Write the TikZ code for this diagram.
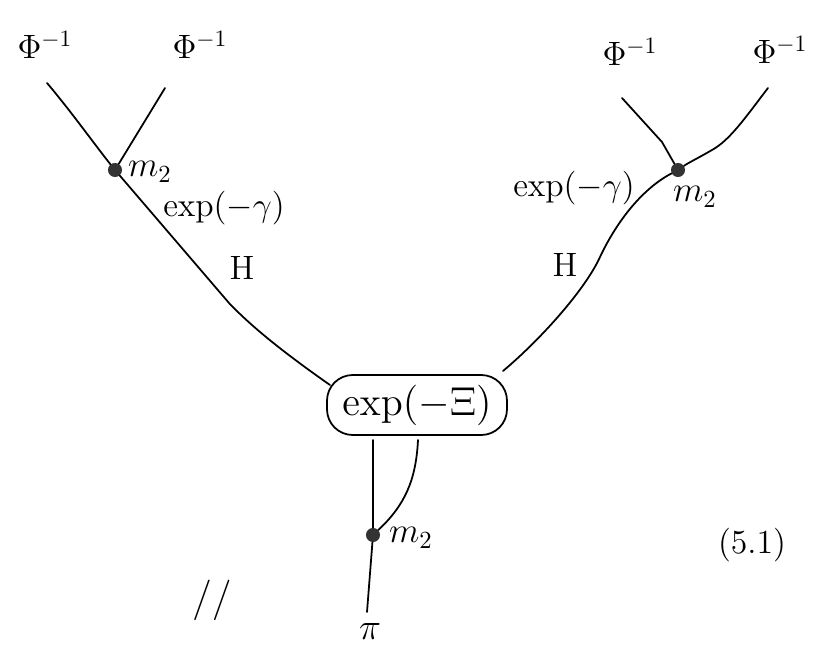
\documentclass[tikz,border=0pt]{standalone}
\newcommand\hwtext[2][2]{\scalebox{#1}{\Large #2}}
\begin{document}
\begin{tikzpicture}[x=0.03cm,y=-0.03cm,
  wire/.style={line width=1.5pt,line cap=round},
  dot/.style={circle,fill=black!80,inner sep=0pt,minimum size=12pt},
  lbl/.style={inner sep=1pt},
  box/.style={draw,line width=1.5pt,rounded corners=22pt,minimum width=5.4cm,minimum height=1.8cm,inner sep=2pt}]
\useasboundingbox (0,0) rectangle (827,663);
% top labels
\node[lbl] (pA) at (45,45) {\hwtext{$\Phi^{-1}$}};
\node[lbl] (pB) at (200,45) {\hwtext{$\Phi^{-1}$}};
\node[lbl] (pC) at (630,52) {\hwtext{$\Phi^{-1}$}};
\node[lbl] (pD) at (780,50) {\hwtext{$\Phi^{-1}$}};
% vertices
\node[dot] (vL) at (115,170) {};
\node[dot] (vR) at (678,170) {};
\node[dot] (vB) at (373,535) {};
\node[lbl] (mL) at (150,172) {\hwtext[2.1]{$m_2$}};
\node[lbl] (mR) at (695,197) {\hwtext[2.1]{$m_2$}};
\node[lbl] (mB) at (411,538) {\hwtext[2.1]{$m_2$}};
% box
\node[box] (ex) at (417,405) {\hwtext[2.4]{$\exp(-\Xi)$}};
% edge labels
\node[lbl] (gL) at (224,208) {\hwtext{$\exp(-\gamma)$}};
\node[lbl] (gR) at (574,188) {\hwtext{$\exp(-\gamma)$}};
\node[lbl] (hL) at (242,268) {\hwtext{$\mathrm{H}$}};
\node[lbl] (hR) at (565,265) {\hwtext{$\mathrm{H}$}};
\node[lbl] (pi) at (370,632) {\hwtext[2.2]{$\pi$}};
\node[lbl] (eq) at (752,545) {\hwtext{$(5.1)$}};
\node[lbl] (sl) at (212,600) {\hwtext[2.4]{$//$}};
% free ends
\coordinate (a1) at (47,83);
\coordinate (a2) at (165,88);
\coordinate (b1) at (622,98);
\coordinate (b2) at (768,88);
\coordinate (eL) at (330,385);
\coordinate (eR) at (503,371);
\coordinate (d1) at (373,440);
\coordinate (d2) at (418,440);
\coordinate (pe) at (367,612);
% wires
\draw[wire] (a1) .. controls (70,110) and (95,145) .. (vL);
\draw[wire] (a2) -- (vL);
\draw[wire] (vL) -- (229,303) .. controls (250,325) and (280,350) .. (eL);
\draw[wire] (b1) -- (662,142) -- (vR);
\draw[wire] (b2) .. controls (745,118) and (730,140) .. (712,150) .. controls (700,157) and (688,163) .. (vR);
\draw[wire] (vR) .. controls (640,190) and (615,225) .. (600,257) .. controls (585,290) and (540,340) .. (eR);
\draw[wire] (d1) -- (vB);
\draw[wire] (d2) .. controls (416,480) and (405,505) .. (vB);
\draw[wire] (vB) -- (pe);
\end{tikzpicture}
\end{document}
